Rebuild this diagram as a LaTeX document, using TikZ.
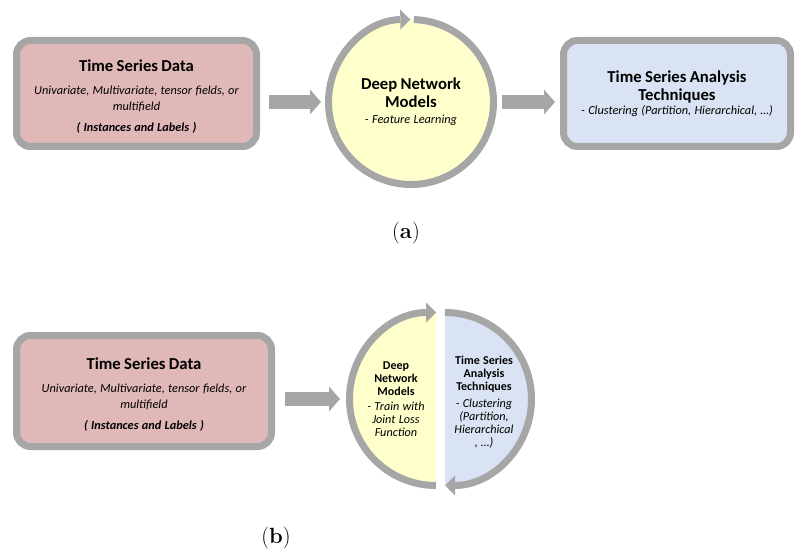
\documentclass[tikz,border=0pt]{standalone}
\usepackage{fontspec}
\newfontfamily\calibri{Carlito}
\usetikzlibrary{arrows.meta,positioning,calc}

\definecolor{ringgray}{HTML}{A6A6A6}
\definecolor{datapink}{HTML}{E0B8B8}
\definecolor{dnnyellow}{HTML}{FFFFCC}
\definecolor{tsablue}{HTML}{DAE3F3}

\newcommand{\headfont}{\calibri\bfseries\fontsize{16.7}{18}\selectfont}
\newcommand{\subfont}{\calibri\itshape\fontsize{12.3}{16}\selectfont}
\newcommand{\smallhead}{\calibri\bfseries\fontsize{12}{13}\selectfont}
\newcommand{\smallsub}{\calibri\itshape\fontsize{12.2}{13}\selectfont}

\begin{document}
\begin{tikzpicture}[x=1pt,y=1pt,
  box/.style={draw=ringgray, line width=7pt, rounded corners=14pt, align=center, inner sep=2pt},
  blockarrow/.style={draw=ringgray, line width=14pt, -{Triangle[length=11pt,width=25pt,line width=0pt]}},
  ringarrow/.style={draw=ringgray, line width=7pt, -{Triangle[length=10pt,width=20pt,line width=0pt]}},
  subcap/.style={font=\fontsize{22}{24}\selectfont}]
  \useasboundingbox (0,0) rectangle (795,558);

  % (a) pipeline
  \node[box, fill=datapink, minimum width=240, minimum height=106, text width=232] (data) at (136.5,464.5)
    {{\headfont Time Series Data\par}\vspace{7pt}
     {\subfont Univariate, Multivariate, tensor fields, or\\ multifield\par}\vspace{5pt}
     {\subfont\bfseries ( Instances and Labels )\par}\vspace{-6pt}\hrule height 0pt};
  \node[circle, fill=dnnyellow, minimum size=165, outer sep=3.5pt, inner sep=0pt, text width=130, align=center] (dnn) at (411,456)
    {{\headfont Deep Network\\ Models\par}\vspace{0pt}
     {\subfont - Feature Learning\par}};
  \node[box, fill=tsablue, minimum width=227, minimum height=106, text width=219] (tsa) at (677,464.5)
    {{\headfont Time Series Analysis\\ Techniques\par}\vspace{-2pt}
     {\subfont - Clustering (Partition, Hierarchical, …)\par}};
  \draw[ringarrow] (dnn.center) ++(88:82.5) arc[start angle=88, end angle=-269.5, radius=82.5];
  \draw[blockarrow, shorten <=9pt, shorten >=4pt] (data.east |- dnn.west) -- (dnn.west);
  \draw[blockarrow, shorten <=5pt, shorten >=5pt] (dnn.east) -- (tsa.west |- dnn.east);
  \node[subcap] (capa) at (406,325) {(\textbf{a})};

  % (b) joint training
  \node[box, fill=datapink, minimum width=255, minimum height=111, text width=240] (datab) at (144,167)
    {{\headfont Time Series Data\par}\vspace{7pt}
     {\subfont Univariate, Multivariate, tensor fields, or\\ multifield\par}\vspace{5pt}
     {\subfont\bfseries ( Instances and Labels )\par}\vspace{-7pt}\hrule height 0pt};
  \coordinate (lc) at (436,159);
  \coordinate (rc) at (445,159);
  \coordinate (splitin) at (346,159);
  \fill[dnnyellow] (lc) ++(90:86.5) arc[start angle=90, end angle=270, radius=86.5] -- cycle;
  \fill[tsablue] (rc) ++(90:86.5) arc[start angle=90, end angle=-90, radius=86.5] -- cycle;
  \draw[ringarrow] (lc) ++(270:86.5) arc[start angle=270, end angle=90, radius=86.5];
  \draw[ringarrow] (rc) ++(90:86.5) arc[start angle=90, end angle=-90, radius=86.5];
  \node[text width=80, align=center, inner sep=0pt] (dnnb) at (396,158.5)
    {{\smallhead Deep\\ Network\\ Models\par}\vspace{2pt}
     {\smallsub - Train with\\ Joint Loss\\ Function\par}};
  \node[text width=80, align=center, inner sep=0pt] (tsab) at (484,156)
    {{\smallhead Time Series\\ Analysis\\ Techniques\par}\vspace{4pt}
     {\smallsub - Clustering\\ (Partition,\\ Hierarchical\\ , …)\par}};
  \draw[blockarrow, shorten <=10pt, shorten >=6pt] (datab.east |- splitin) -- (splitin);
  \node[subcap] (capb) at (276,20) {(\textbf{b})};
\end{tikzpicture}
\end{document}
